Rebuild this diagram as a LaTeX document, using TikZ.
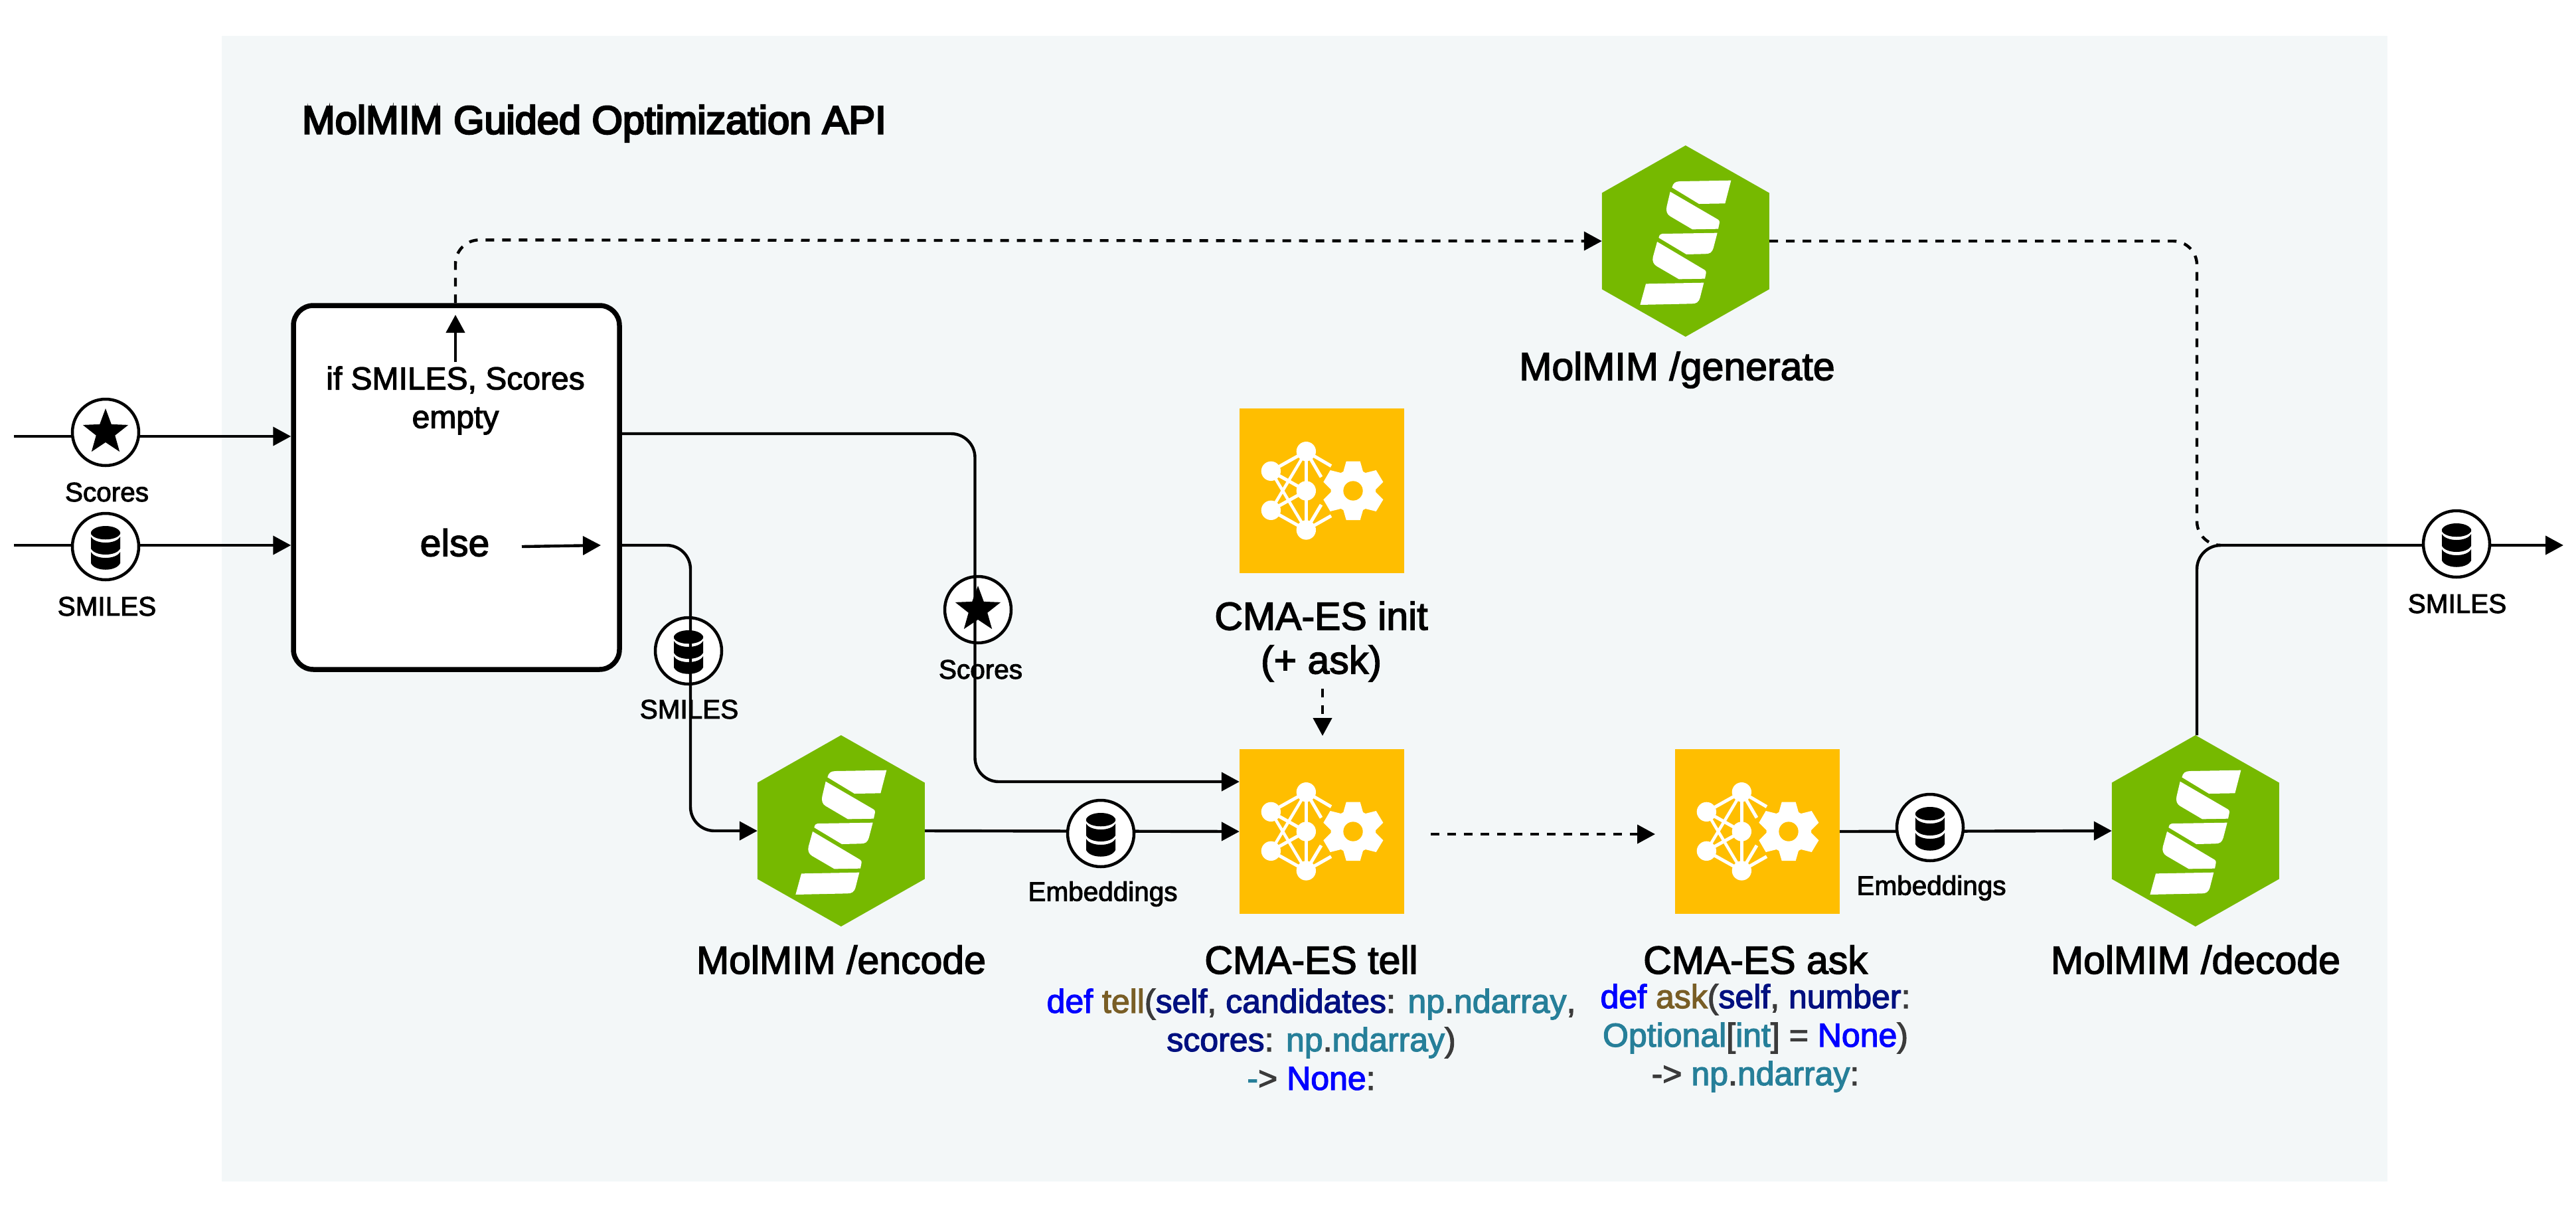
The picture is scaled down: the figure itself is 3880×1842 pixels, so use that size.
\documentclass[tikz,border=0pt]{standalone}
\usepackage{fontspec}
\setmainfont{Liberation Sans}[FakeBold=2.5]
\newfontfamily\titlefont{Liberation Sans}[FakeBold=4.5]
\usetikzlibrary{arrows.meta,calc}
\definecolor{panelbg}{HTML}{F3F7F8}
\definecolor{nvgreen}{HTML}{76B900}
\definecolor{amberbox}{HTML}{FFBE00}
\definecolor{kwblue}{HTML}{0000FF}
\definecolor{fnbrown}{HTML}{795E26}
\definecolor{argnavy}{HTML}{001080}
\definecolor{typeteal}{HTML}{267F99}
\definecolor{punct}{HTML}{3B3B3B}
\newcommand{\ckw}[1]{\textcolor{kwblue}{#1}}
\newcommand{\cfn}[1]{\textcolor{fnbrown}{#1}}
\newcommand{\carg}[1]{\textcolor{argnavy}{#1}}
\newcommand{\cty}[1]{\textcolor{typeteal}{#1}}
\newcommand{\cpu}[1]{\textcolor{punct}{#1}}
\tikzset{
  x=1pt,y=-1pt,
  conn/.style={line width=4.4pt,-{Triangle[length=27pt,width=28pt]},rounded corners=36pt},
  plainconn/.style={line width=4.4pt,rounded corners=36pt},
  dashconn/.style={line width=4.4pt,dash pattern=on 13pt off 12pt,rounded corners=36pt},
  dasharrow/.style={dashconn,-{Triangle[length=27pt,width=28pt]}},
  dataring/.style={circle,draw=black,fill=white,line width=4.5pt,minimum size=100pt,inner sep=0pt},
  hexanchor/.style={rectangle,minimum width=252pt,minimum height=288pt,inner sep=0pt},
  ybox/.style={rectangle,fill=amberbox,minimum size=248pt,inner sep=0pt},
  smalllab/.style={font=\fontsize{40.5}{48}\selectfont,inner sep=0pt,align=center},
  biglab/.style={font=\fontsize{59}{66}\selectfont,inner sep=0pt,align=center},
  codelab/.style={font=\fontsize{50}{58}\selectfont,inner sep=0pt,align=center},
  boxlab/.style={font=\fontsize{48}{58}\selectfont,inner sep=0pt,align=center},
  dbicon/.pic={
    \fill[black] (-22,-22) .. controls (-16,-34) and (16,-34) .. (22,-22) -- (22,-19) .. controls (16,-8) and (-16,-8) .. (-22,-19) -- cycle;
    \fill[black] (-22,-15) .. controls (-16,-3) and (16,-3) .. (22,-15) -- (22,3) .. controls (16,15) and (-16,15) .. (-22,3) -- cycle;
    \fill[black] (-22,8) .. controls (-16,20) and (16,20) .. (22,8) -- (22,25) .. controls (16,38) and (-16,38) .. (-22,25) -- cycle;
  },
  staricon/.pic={
    \fill[black,y=1pt] (90:36) -- (126:15) -- (162:36) -- (198:15) -- (234:36) -- (270:15) -- (306:36) -- (342:15) -- (18:36) -- (54:15) -- cycle;
  },
  nvlogo/.pic={
    \begin{scope}[x=0.3333pt,y=-0.3333pt,shift={(-567,-520)}]
    \fill[white] (505,278) .. controls (510,258) and (520,251) .. (540,250) -- (772,246) -- (745,350) -- (627,352) -- cycle;
    \fill[white] (497,297) -- (712,422) .. controls (718,426) and (721,430) .. (720,436) -- (714,465) -- (597,467) -- (497,408) .. controls (483,400) and (477,385) .. (481,365) -- cycle;
    \fill[white] (445,505) .. controls (448,492) and (452,488) .. (460,487) -- (710,483) -- (692,552) .. controls (686,572) and (675,578) .. (655,578) -- (570,580) -- cycle;
    \fill[white] (438,523) -- (652,650) .. controls (658,654) and (660,658) .. (659,664) -- (654,690) -- (536,692) -- (435,633) .. controls (421,624) and (415,610) .. (419,592) -- cycle;
    \fill[white] (387,713) -- (649,708) -- (632,775) .. controls (626,796) and (615,803) .. (595,803) -- (361,808) -- cycle;
    \end{scope}
  },
  aiicon/.pic={
    \begin{scope}[x=0.3333pt,y=-0.3333pt,shift={(-573,-477)}]
    \draw[white,line width=5pt] (343,388) -- (502,299) -- (615,365);
    \draw[white,line width=5pt] (343,565) -- (502,654) -- (615,590);
    \draw[white,line width=5pt] (502,299) -- (570,415);
    \draw[white,line width=5pt] (502,654) -- (570,540);
    \draw[white,line width=5pt] (502,299) -- (502,654);
    \draw[white,line width=5pt] (343,388) -- (502,477) -- (343,565);
    \draw[white,line width=4.5pt] (343,388) -- (502,654);
    \draw[white,line width=4.5pt] (343,565) -- (502,299);
    \foreach \p in {(343,388),(343,565),(502,299),(502,477),(502,654)}{\fill[white] \p circle [radius=44];}
    \fill[white] (683,344) -- (746,344) -- (759,390) -- (770,396) -- (818,384) -- (850,437) -- (816,471) -- (816,483) -- (850,517) -- (818,570) -- (770,558) -- (759,564) -- (746,609) -- (683,609) -- (670,564) -- (659,558) -- (611,570) -- (580,517) -- (614,483) -- (614,471) -- (580,437) -- (611,384) -- (659,396) -- (670,390) -- cycle;
    \fill[amberbox] (714,477) circle [radius=44];
    \end{scope}
  },
}
\newcommand{\hexnode}[3]{%
  \node[hexanchor] (#1) at (#2,#3) {};
  \fill[nvgreen] (#1.west) ++(0,-72.5) -- ++(126,-71.5) -- ++(126,71.5) -- ++(0,145) -- ++(-126,71.5) -- ++(-126,-71.5) -- cycle;
  \pic at (#1) {nvlogo};
}
\begin{document}
\begin{tikzpicture}
\useasboundingbox (0,0) rectangle (3880,1842);
\fill[white] (0,0) rectangle (3880,1842);
\node[rectangle,fill=panelbg,minimum width=3262pt,minimum height=1725pt,inner sep=0pt] (panel) at (1965,916.5) {};
\node[anchor=west,inner sep=0pt,font=\titlefont\fontsize{59.5}{66}\selectfont] (title) at (455,186) {MolMIM Guided Optimization API};

% main box
\node[rectangle,rounded corners=30pt,draw=black,fill=white,line width=7.5pt,minimum width=491pt,minimum height=548pt,inner sep=0pt] (gate) at (687.5,734) {};
\node[boxlab] (iflab) at (686,603) {if SMILES, Scores\\empty};
\node[font=\fontsize{57}{60}\selectfont,inner sep=0pt] (elselab) at (685,817) {else};

% hexagons
\hexnode{gen}{2539}{363}
\hexnode{enc}{1267}{1251}
\hexnode{dec}{3307}{1251}

% yellow boxes
\node[ybox] (init) at (1991,739) {};
\pic at (init) {aiicon};
\node[ybox] (tell) at (1991,1252) {};
\pic at (tell) {aiicon};
\node[ybox] (ask) at (2647,1252) {};
\pic at (ask) {aiicon};

% free ends
\coordinate (inS) at (21,657);
\coordinate (inM) at (21,821);
\coordinate (outEnd) at (3861,821);
\coordinate (upFrom) at (686,545);
\coordinate (upTo) at (686,474);
\coordinate (elseFrom) at (786,823);
\coordinate (elseTo) at (905,821);
\coordinate (initFrom) at (1992,1037);
\coordinate (initTo) at (1992,1108);
\coordinate (tellFrom) at (2155,1256);
\coordinate (tellTo) at (2493,1256);
\coordinate (genEnd) at (3336,821);

% connectors under rings
\draw[conn] (inS) -- ([yshift=77pt]gate.west);
\draw[conn] (inM) -- ([yshift=-87pt]gate.west);
\draw[conn] (upFrom) -- (upTo);
\draw[conn] (elseFrom) -- (elseTo);
\draw[dasharrow] (gate.north -| upFrom) -- ($(gate.north -| upFrom)+(0,-95)$) -- (gen.west);
\draw[dashconn] (gen.east) -- (3309,363) -- (3309,821) -- (genEnd);
\draw[plainconn,-{Triangle[length=27pt,width=28pt]}] (3309,1107) -- (3309,821) -- (outEnd);
\draw[conn] (enc.east) -- (tell.west);
\draw[conn] (ask.east) -- (dec.west);
\draw[dasharrow] (initFrom) -- (initTo);
\draw[dasharrow] (tellFrom) -- (tellTo);

% rings
\node[dataring] (rS) at (159,651) {}; \pic at (rS) {staricon};
\node[dataring] (rM) at (159,823) {}; \pic at (rM) {dbicon};
\node[dataring] (rMid) at (1473,918) {}; \pic at (rMid) {staricon};
\node[dataring] (rE1) at (1658,1255) {}; \pic at (rE1) {dbicon};
\node[dataring] (rE2) at (2907,1246) {}; \pic at (rE2) {dbicon};
\node[dataring] (rOut) at (3700,819) {}; \pic at (rOut) {dbicon};
\node[dataring] (rSm) at (1037,980) {}; \pic at (rSm) {dbicon};

% labels
\node[smalllab] (l1) at (161,741) {Scores};
\node[smalllab] (l2) at (161,913) {SMILES};
\node[smalllab] (l3) at (1038,1068) {SMILES};
\node[smalllab] (l4) at (1477,1008) {Scores};
\node[smalllab] (l5) at (1661,1346) {Embeddings};
\node[smalllab] (l6) at (2909,1337) {Embeddings};
\node[smalllab] (l7) at (3701,909) {SMILES};

% these connectors run over their ring and label
\draw[conn] ([yshift=-87pt]gate.east) -- (1040,821) -- (1040,1251) -- (enc.west);
\draw[conn] ([yshift=81pt]gate.east) -- (1468.5,653) -- (1468.5,1177) -- ([yshift=75pt]tell.west);

\node[biglab] (gl) at (2526,557) {MolMIM /generate};
\node[biglab] (el) at (1267,1445) {MolMIM /encode};
\node[biglab] (dl) at (3307,1445) {MolMIM /decode};
\node[biglab] (il) at (1990,966) {CMA-ES init\\(+ ask)};
\node[biglab] (tl) at (1975,1445) {CMA-ES tell};
\node[biglab] (al) at (2644,1445) {CMA-ES ask};

\node[codelab] (tc) at (1975,1565) {\ckw{def} \cfn{tell}\cpu{(}\carg{self}\cpu{,} \carg{candidates}\cpu{:} \cty{np}\cpu{.}\cty{ndarray}\cpu{,}\\\carg{scores}\cpu{:} \cty{np}\cpu{.}\cty{ndarray}\cpu{)}\\\cty{-}\cpu{>} \ckw{None}\cpu{:}};
\node[codelab] (ac) at (2644,1563) {\ckw{def} \cfn{ask}\cpu{(}\carg{self}\cpu{,} \carg{number}\cpu{:}\\\cty{Optional}\cpu{[}\cty{int}\cpu{]} \cpu{=} \ckw{None}\cpu{)}\\\cpu{->} \cty{np}\cpu{.}\cty{ndarray}\cpu{:}};
\end{tikzpicture}
\end{document}
